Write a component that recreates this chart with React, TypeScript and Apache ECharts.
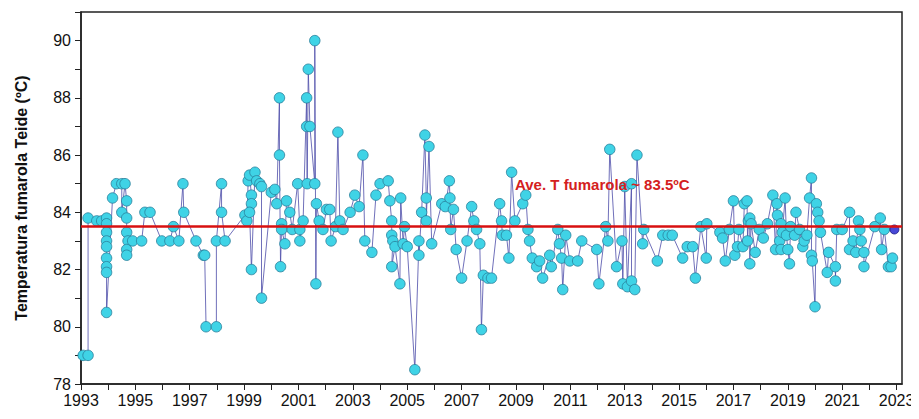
import { useEffect, useRef } from 'react'
import * as echarts from 'echarts'

// [year, temperature ºC], in time order
const seriesTemp: [number, number][] = [
  [1993.08, 79.0], [1993.26, 79.0], [1993.26, 83.8], [1993.58, 83.7], [1993.76, 83.7],
  [1993.94, 83.8], [1993.94, 83.6], [1993.94, 83.3], [1993.94, 83.0], [1993.94, 82.8],
  [1993.94, 82.4], [1993.94, 82.1], [1993.94, 81.9], [1993.94, 80.5], [1994.16, 84.5],
  [1994.3, 85.0], [1994.5, 85.0], [1994.5, 84.0], [1994.62, 85.0], [1994.68, 84.4],
  [1994.68, 83.8], [1994.68, 83.3], [1994.73, 83.0], [1994.68, 82.7], [1994.68, 82.5],
  [1994.9, 83.0], [1995.23, 83.0], [1995.35, 84.0], [1995.54, 84.0], [1995.97, 83.0],
  [1996.27, 83.0], [1996.4, 83.5], [1996.6, 83.0], [1996.75, 85.0], [1996.78, 84.0],
  [1997.23, 83.0], [1997.5, 82.5], [1997.55, 82.5], [1997.6, 80.0], [1997.98, 80.0],
  [1997.98, 83.0], [1998.17, 85.0], [1998.17, 84.0], [1998.3, 83.0],
  [1999.03, 83.9], [1999.1, 83.7], [1999.15, 85.1], [1999.2, 85.3], [1999.27, 84.6],
  [1999.27, 84.3], [1999.2, 84.0], [1999.27, 82.0], [1999.4, 85.4], [1999.46, 85.1],
  [1999.58, 85.0], [1999.64, 84.9], [1999.64, 81.0], [2000.0, 84.7], [2000.13, 84.8],
  [2000.2, 84.3], [2000.3, 88.0], [2000.3, 86.0], [2000.34, 82.1], [2000.38, 83.6],
  [2000.38, 83.4], [2000.5, 82.9], [2000.56, 84.4], [2000.68, 84.0], [2000.77, 83.4],
  [2000.97, 85.0], [2001.05, 83.4], [2001.05, 83.0], [2001.17, 83.7], [2001.3, 88.0],
  [2001.3, 87.0], [2001.32, 85.0], [2001.36, 89.0], [2001.42, 87.0], [2001.6, 85.0],
  [2001.6, 90.0], [2001.64, 81.5], [2001.66, 84.3], [2001.76, 83.7], [2001.9, 83.4],
  [2002.03, 84.1], [2002.15, 84.1], [2002.2, 83.0], [2002.36, 83.5], [2002.45, 86.8],
  [2002.52, 83.7], [2002.64, 83.4], [2002.9, 84.0], [2003.07, 84.6], [2003.23, 84.2],
  [2003.37, 86.0], [2003.44, 83.0], [2003.7, 82.6], [2003.85, 84.6], [2004.0, 85.0],
  [2004.3, 85.1], [2004.36, 84.4], [2004.43, 83.7], [2004.43, 83.2], [2004.47, 83.0],
  [2004.43, 82.1], [2004.55, 82.8], [2004.73, 81.5], [2004.76, 84.5], [2004.85, 82.9],
  [2004.9, 83.5], [2005.0, 82.8], [2005.28, 78.5], [2005.43, 83.0], [2005.43, 82.5],
  [2005.53, 84.0], [2005.65, 86.7], [2005.7, 84.5], [2005.7, 83.7], [2005.8, 86.3],
  [2005.9, 82.9], [2006.27, 84.3], [2006.4, 84.2], [2006.55, 85.1], [2006.57, 84.5],
  [2006.6, 83.4], [2006.7, 84.1], [2006.8, 82.7], [2007.0, 81.7], [2007.2, 83.0],
  [2007.37, 84.2], [2007.45, 83.7], [2007.55, 83.4], [2007.67, 82.9], [2007.73, 79.9],
  [2007.8, 81.8], [2007.97, 81.7], [2008.1, 81.7], [2008.4, 84.3], [2008.47, 83.7],
  [2008.5, 83.2], [2008.65, 83.2], [2008.74, 82.4], [2008.84, 85.4], [2008.96, 83.7],
  [2009.25, 84.3], [2009.36, 84.6], [2009.44, 83.4], [2009.5, 83.0], [2009.6, 82.4],
  [2009.76, 82.1], [2009.87, 82.3], [2009.98, 81.7], [2010.24, 82.5], [2010.3, 82.1],
  [2010.54, 83.4], [2010.6, 82.9], [2010.68, 82.4], [2010.72, 81.3], [2010.83, 83.2],
  [2010.98, 82.3], [2011.27, 82.3], [2011.42, 83.0], [2011.97, 82.7], [2012.05, 81.5],
  [2012.3, 83.5], [2012.38, 83.0], [2012.45, 86.2], [2012.7, 82.1], [2012.9, 83.0],
  [2012.93, 81.5], [2013.0, 84.9], [2013.1, 81.4], [2013.25, 85.0], [2013.25, 81.6],
  [2013.37, 81.3], [2013.45, 86.0], [2013.66, 82.9], [2013.7, 83.4], [2014.2, 82.3],
  [2014.4, 83.2], [2014.6, 83.2], [2014.75, 83.2], [2015.13, 82.4], [2015.3, 82.8],
  [2015.5, 82.8], [2015.6, 81.7], [2015.8, 83.5], [2016.0, 82.4], [2016.02, 83.6],
  [2016.5, 83.3], [2016.6, 83.1], [2016.7, 82.3], [2016.85, 83.4], [2017.0, 84.4],
  [2017.05, 82.5], [2017.15, 82.8], [2017.2, 83.4], [2017.35, 82.8], [2017.4, 84.3],
  [2017.5, 84.4], [2017.52, 83.0], [2017.55, 83.7], [2017.6, 83.8], [2017.6, 82.2],
  [2017.65, 83.6], [2017.8, 82.6], [2017.95, 83.4], [2018.1, 83.1], [2018.25, 83.6],
  [2018.45, 84.6], [2018.55, 82.7], [2018.6, 84.3], [2018.62, 83.9], [2018.7, 83.0],
  [2018.75, 83.6], [2018.75, 82.7], [2018.8, 83.3], [2018.9, 84.5], [2018.95, 83.2],
  [2019.0, 82.7], [2019.06, 82.2], [2019.1, 83.5], [2019.25, 83.2], [2019.3, 84.0],
  [2019.43, 83.4], [2019.55, 82.8], [2019.6, 83.0], [2019.7, 83.2], [2019.8, 84.5],
  [2019.87, 85.2], [2019.87, 82.5], [2019.9, 82.3], [2020.0, 80.7], [2020.05, 84.3],
  [2020.1, 84.0], [2020.15, 83.7], [2020.2, 83.3], [2020.45, 81.9], [2020.5, 82.6],
  [2020.75, 82.1], [2020.75, 81.6], [2020.8, 83.4], [2021.0, 83.4], [2021.27, 84.0],
  [2021.27, 82.7], [2021.4, 83.0], [2021.5, 82.6], [2021.6, 83.7], [2021.65, 83.4],
  [2021.7, 83.0], [2021.8, 82.6], [2021.8, 82.1], [2022.2, 83.5], [2022.4, 83.8],
  [2022.45, 82.7], [2022.55, 83.4], [2022.7, 82.1], [2022.8, 82.1], [2022.85, 82.4]
]
const lastPoint: [number, number][] = [[2022.92, 83.4]]
const averageTemp = 83.5
const yearTickLabels = [1993, 1995, 1997, 1999, 2001, 2003, 2005, 2007, 2009, 2011, 2013, 2015, 2017, 2019, 2021, 2023]
const tempTickLabels = [78, 80, 82, 84, 86, 88, 90]

export default function App() {
  const chartRef = useRef<HTMLDivElement>(null)

  useEffect(() => {
    if (!chartRef.current) return
    const chart = echarts.init(chartRef.current, null, { renderer: 'svg' })
    const axisText = { color: '#111', fontSize: 16, fontFamily: 'Liberation Sans, Arial' }

    chart.setOption({
      animation: false,
      backgroundColor: '#fff',
      grid: { left: 81, right: 17, top: 12, bottom: 35, show: true, borderColor: '#222', borderWidth: 1.5 },
      xAxis: {
        type: 'value', min: 1993, max: 2023.2, interval: 1,
        splitLine: { show: false },
        axisLine: { lineStyle: { color: '#222', width: 1.5 } },
        axisTick: { show: true, length: 6, lineStyle: { color: '#222' } },
        axisLabel: {
          ...axisText, margin: 8, showMaxLabel: false,
          formatter: (v: number) => (yearTickLabels.includes(v) ? String(v) : '')
        }
      },
      yAxis: {
        type: 'value', min: 78, max: 91, interval: 1,
        name: 'Temperatura fumarola Teide (ºC)', nameLocation: 'middle', nameGap: 52,
        nameTextStyle: { color: '#111', fontSize: 16, fontWeight: 'bold', fontFamily: 'Liberation Sans, Arial' },
        splitLine: { show: false },
        axisLine: { show: true, lineStyle: { color: '#222', width: 1.5 } },
        axisTick: { show: true, length: 6, lineStyle: { color: '#222' } },
        axisLabel: {
          ...axisText, margin: 10,
          formatter: (v: number) => (tempTickLabels.includes(v) ? String(v) : '')
        }
      },
      series: [
        {
          type: 'line', data: seriesTemp, symbol: 'circle', symbolSize: 10.5,
          lineStyle: { color: '#4b4ba8', width: 0.8 },
          itemStyle: { color: '#3fd3e6', borderColor: '#2a7f9a', borderWidth: 0.8 },
          z: 3,
          markLine: {
            silent: true, symbol: 'none', label: { show: false },
            lineStyle: { color: '#d81010', width: 2.5, type: 'solid' },
            data: [{ yAxis: averageTemp }]
          }
        },
        {
          type: 'scatter', data: lastPoint, symbol: 'circle', symbolSize: 9,
          itemStyle: { color: '#1a1acc', borderColor: '#101080' }, z: 4
        }
      ],
      graphic: [
        {
          type: 'text', left: 515, top: 177, z: 10,
          style: {
            text: 'Ave. T fumarola ~ 83.5ºC', fill: '#d42020', fontSize: 15,
            fontWeight: 'bold', fontFamily: 'Liberation Sans, Arial'
          }
        }
      ]
    })

    return () => chart.dispose()
  }, [])

  return <div ref={chartRef} style={{ width: 919, height: 419, margin: -8 }} />
}
